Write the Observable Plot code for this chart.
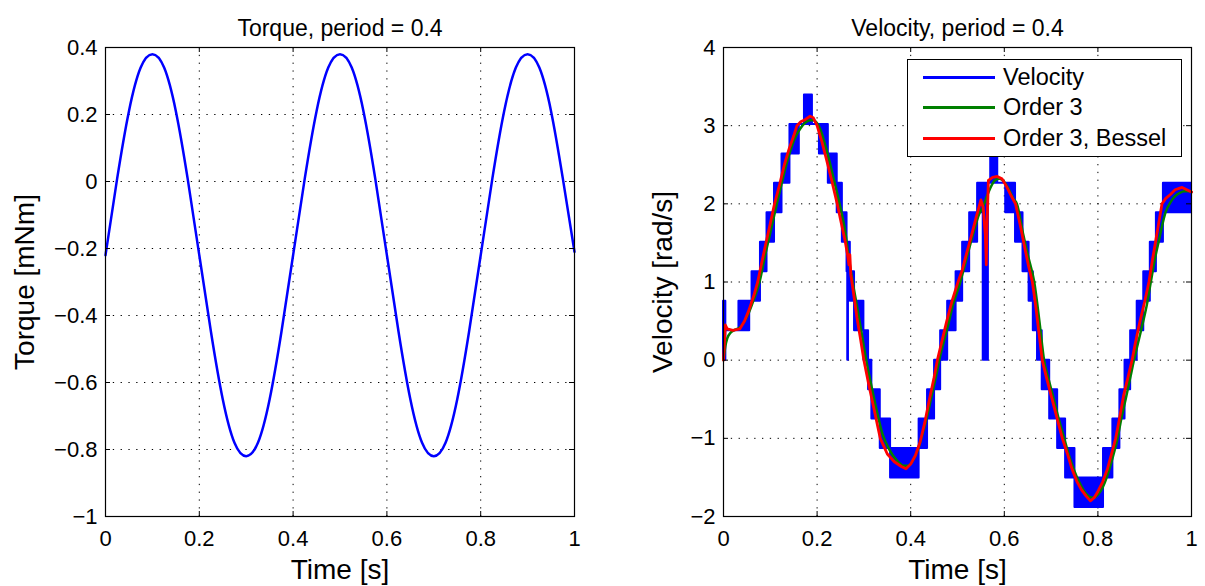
<!DOCTYPE html>
<html><head><meta charset="utf-8">
<script src="https://cdn.jsdelivr.net/npm/d3@7"></script>
<script src="https://cdn.jsdelivr.net/npm/@observablehq/plot@0.6"></script>
<style>
body{margin:0;background:#fff;font-family:"Liberation Sans",Arial,sans-serif;}
#wrap{position:relative;width:1205px;height:586px;overflow:hidden;background:#fff}
#left{position:absolute;left:0;top:0}
#right{position:absolute;left:600px;top:0}
#legend{position:absolute;left:907px;top:59px;width:273px;height:96px;border:1.5px solid #000;background:#fff;font-size:23.5px;color:#000}
.row{position:absolute;left:0;height:30px;display:flex;align-items:center;white-space:nowrap}
.sw{display:inline-block;width:72px;height:3px;margin-left:15px;margin-right:8px}
</style></head>
<body>
<div id="wrap">
  <div id="left"></div>
  <div id="right"></div>
  <div id="legend"></div>
</div>
<script>
// ---------- data ----------
const timeTicks = [0, 0.2, 0.4, 0.6, 0.8, 1];
const torqueTicks = [0.4, 0.2, 0, -0.2, -0.4, -0.6, -0.8, -1];
const velocityTicks = [4, 3, 2, 1, 0, -1, -2];

const torqueTime = [0,0.025,0.05,0.075,0.1,0.125,0.15,0.175,0.2,0.225,0.25,0.275,0.3,0.325,0.35,0.375,0.4,0.425,0.45,0.475,0.5,0.525,0.55,0.575,0.6,0.625,0.65,0.675,0.7,0.725,0.75,0.775,0.8,0.825,0.85,0.875,0.9,0.925,0.95,0.975,1];
const torqueValue = [-0.22,0.01,0.21,0.34,0.38,0.34,0.21,0.01,-0.22,-0.45,-0.65,-0.78,-0.82,-0.78,-0.65,-0.45,-0.22,0.01,0.21,0.34,0.38,0.34,0.21,0.01,-0.22,-0.45,-0.65,-0.78,-0.82,-0.78,-0.65,-0.45,-0.22,0.01,0.21,0.34,0.38,0.34,0.21,0.01,-0.21];

// measured velocity: quantized encoder steps [start time, low level, high level]
const velocitySteps = [
 [0.000,0,0.754],[0.005,0.377,0.377],[0.033,0.377,0.754],[0.056,0.754,0.754],[0.061,0.754,1.131],
 [0.079,1.131,1.508],[0.093,1.508,1.885],[0.109,1.885,2.262],[0.125,2.262,2.639],[0.142,2.639,3.016],
 [0.162,3.016,3.016],[0.173,3.016,3.393],[0.190,3.016,3.016],[0.205,2.639,3.016],[0.224,2.262,2.639],
 [0.243,1.885,2.262],[0.254,1.508,1.885],[0.264,1.131,1.508],[0.2655,0,1.508],[0.267,1.131,1.508],
 [0.271,0.754,1.131],[0.280,0.377,0.754],[0.300,0,0.377],[0.310,-0.377,0],[0.317,-0.754,-0.377],
 [0.335,-1.131,-0.754],[0.357,-1.508,-1.131],[0.418,-1.131,-0.754],[0.436,-0.754,-0.377],[0.451,-0.377,0],
 [0.464,0,0.377],[0.479,0.377,0.754],[0.497,0.754,1.131],[0.511,1.131,1.508],[0.526,1.508,1.885],
 [0.543,1.885,2.262],[0.555,0,2.262],[0.566,2.262,2.262],[0.571,2.262,2.639],[0.586,2.262,2.262],
 [0.603,1.885,2.262],[0.624,1.508,1.885],[0.640,1.131,1.508],[0.653,0.754,1.131],[0.662,0.377,0.754],
 [0.671,0,0.377],[0.681,-0.377,0],[0.697,-0.754,-0.377],[0.714,-1.131,-0.754],[0.731,-1.508,-1.131],
 [0.751,-1.885,-1.508],[0.812,-1.508,-1.131],[0.832,-1.131,-0.754],[0.847,-0.754,-0.377],[0.858,-0.377,0],
 [0.870,0,0.377],[0.884,0.377,0.754],[0.898,0.754,1.131],[0.912,1.131,1.508],[0.925,1.508,1.885],
 [0.940,1.885,2.262],[1.000,1.885,2.262]
];

// filtered, order 3, Bessel (red)
const besselTime = [0,0.004,0.008,0.02,0.035,0.045,0.055,0.065,0.073,0.08,0.09,0.1,0.109,0.12,0.13,0.14,0.15,0.157,0.165,0.175,0.185,0.192,0.2,0.21,0.22,0.23,0.243,0.25,0.26,0.265,0.268,0.27,0.272,0.278,0.285,0.292,0.3,0.31,0.32,0.335,0.35,0.365,0.38,0.39,0.4,0.41,0.42,0.43,0.44,0.45,0.457,0.467,0.477,0.488,0.5,0.51,0.52,0.53,0.54,0.546,0.55,0.555,0.5595,0.5615,0.563,0.566,0.575,0.585,0.595,0.605,0.615,0.624,0.635,0.645,0.652,0.66,0.667,0.674,0.681,0.69,0.7,0.71,0.724,0.735,0.745,0.755,0.765,0.775,0.784,0.792,0.8,0.81,0.82,0.83,0.838,0.845,0.855,0.865,0.873,0.88,0.89,0.9,0.909,0.917,0.925,0.937,0.945,0.955,0.965,0.975,0.98,0.99,1];
const besselValue = [0,0.45,0.4,0.38,0.4,0.5,0.65,0.83,1,1.2,1.48,1.75,2,2.25,2.5,2.7,2.87,3,3.05,3.08,3.12,3.1,3,2.8,2.57,2.33,2,1.8,1.52,1.35,1.22,1.35,1.1,0.85,0.55,0.3,0,-0.3,-0.58,-1,-1.2,-1.3,-1.36,-1.39,-1.33,-1.22,-1.05,-0.8,-0.5,-0.22,0,0.25,0.5,0.75,0.98,1.15,1.38,1.6,1.83,1.96,2.05,1.95,1.6,1.22,1.7,2.3,2.34,2.35,2.32,2.22,2.1,2,1.7,1.4,1.2,1,0.7,0.35,0,-0.22,-0.45,-0.68,-1,-1.2,-1.4,-1.55,-1.66,-1.74,-1.8,-1.76,-1.68,-1.56,-1.4,-1.18,-1,-0.78,-0.45,-0.2,0,0.22,0.5,0.75,1,1.3,1.58,2,2.07,2.12,2.18,2.2,2.21,2.18,2.15];

// filtered, order 3 (green)
const order3Time = [0,0.004,0.008,0.015,0.025,0.035,0.045,0.055,0.065,0.077,0.09,0.1,0.114,0.125,0.135,0.145,0.155,0.165,0.175,0.185,0.192,0.2,0.207,0.215,0.225,0.235,0.248,0.26,0.268,0.276,0.285,0.295,0.305,0.315,0.325,0.34,0.355,0.37,0.385,0.395,0.405,0.415,0.425,0.435,0.445,0.455,0.461,0.47,0.48,0.49,0.505,0.515,0.525,0.535,0.545,0.555,0.56,0.57,0.58,0.59,0.6,0.61,0.62,0.627,0.64,0.65,0.664,0.675,0.685,0.695,0.705,0.715,0.728,0.74,0.75,0.76,0.77,0.78,0.79,0.8,0.81,0.82,0.83,0.842,0.85,0.86,0.87,0.877,0.885,0.895,0.905,0.913,0.922,0.93,0.945,0.955,0.965,0.975,0.985,0.993,1];
const order3Value = [0,0.18,0.28,0.35,0.39,0.42,0.5,0.62,0.78,1,1.37,1.63,2,2.28,2.52,2.72,2.87,2.97,3.04,3.07,3.07,3.03,2.95,2.8,2.58,2.33,2,1.65,1.3,1,0.7,0.35,0,-0.3,-0.58,-0.95,-1.15,-1.28,-1.35,-1.35,-1.28,-1.15,-0.95,-0.72,-0.45,-0.18,0,0.22,0.45,0.7,0.98,1.2,1.43,1.65,1.85,1.97,2.05,2.2,2.3,2.32,2.28,2.18,2.06,2,1.62,1.35,1,0.5,0,-0.25,-0.48,-0.72,-1,-1.25,-1.42,-1.56,-1.67,-1.74,-1.76,-1.72,-1.63,-1.48,-1.28,-1,-0.75,-0.48,-0.2,0,0.2,0.45,0.72,1,1.3,1.52,1.9,2.02,2.1,2.14,2.16,2.16,2.15];

const legendNames = ["Velocity", "Order 3", "Order 3, Bessel"];
const legendColors = ["#0000ff", "#008000", "#ff0000"];

// ---------- helpers ----------
const FONT = "Liberation Sans, Arial, sans-serif";
const fmt = d3.format("");
const torqueData = torqueTime.map((t, i) => ({t, v: torqueValue[i]}));
const stepData = velocitySteps.map(([t, lo, hi]) => ({t, lo, hi}));
const besselData = besselTime.map((t, i) => ({t, v: besselValue[i]}));
const order3Data = order3Time.map((t, i) => ({t, v: order3Value[i]}));

function panel({width, marginLeft, marginRight, yDomain, yTicks, title, yLabel, yLabelDx, dataMarks}) {
  const marginTop = 47, marginBottom = 70, height = 586;
  const innerH = height - marginTop - marginBottom;
  const innerW = width - marginLeft - marginRight;
  const tick = 5;
  const grid = {stroke: "#000", strokeOpacity: 1, strokeWidth: 1, strokeDasharray: "1.3,6.5"};
  return Plot.plot({
    width, height, marginLeft, marginRight, marginTop, marginBottom,
    style: {fontFamily: FONT, fontSize: "22px", background: "white", color: "black", overflow: "visible"},
    x: {domain: [0, 1], label: null},
    y: {domain: yDomain, label: null},
    marks: [
      Plot.gridX(timeTicks, grid),
      Plot.gridY(yTicks, grid),
      ...dataMarks,
      Plot.tickX(timeTicks, {x: d => d, stroke: "#000", insetTop: innerH - tick}),
      Plot.tickX(timeTicks, {x: d => d, stroke: "#000", insetBottom: innerH - tick}),
      Plot.tickY(yTicks, {y: d => d, stroke: "#000", insetRight: innerW - tick}),
      Plot.tickY(yTicks, {y: d => d, stroke: "#000", insetLeft: innerW - tick}),
      Plot.frame({stroke: "#000", strokeWidth: 1.2}),
      Plot.axisX(timeTicks, {tickSize: 0, tickPadding: 14, tickFormat: fmt, fontSize: 22, label: null}),
      Plot.axisY(yTicks, {tickSize: 0, tickPadding: 8, tickFormat: fmt, fontSize: 22, label: null}),
      Plot.text([title], {frameAnchor: "top", dy: -28, fontSize: 23, textAnchor: "middle"}),
      Plot.text(["Time [s]"], {frameAnchor: "bottom", dy: 62, fontSize: 28, textAnchor: "middle"}),
      Plot.text([yLabel], {frameAnchor: "left", dx: yLabelDx, rotate: -90, fontSize: 28, textAnchor: "middle"})
    ]
  });
}

const left = panel({
  width: 600, marginLeft: 105, marginRight: 26,
  yDomain: [-1, 0.4], yTicks: torqueTicks,
  title: "Torque, period = 0.4", yLabel: "Torque [mNm]", yLabelDx: -80,
  dataMarks: [
    Plot.line(torqueData, {x: "t", y: "v", stroke: "#0000ff", strokeWidth: 2.5, curve: "natural"})
  ]
});
document.getElementById("left").append(left);

const right = panel({
  width: 605, marginLeft: 123, marginRight: 14,
  yDomain: [-2, 4], yTicks: velocityTicks,
  title: "Velocity, period = 0.4", yLabel: "Velocity [rad/s]", yLabelDx: -60,
  dataMarks: [
    Plot.areaY(stepData, {x: "t", y1: "lo", y2: "hi", curve: "step-after", fill: "#0000ff", stroke: "#0000ff", strokeWidth: 2}),
    Plot.line(order3Data, {x: "t", y: "v", stroke: "#008000", strokeWidth: 2.5, curve: "monotone-x"}),
    Plot.line(besselData, {x: "t", y: "v", stroke: "#ff0000", strokeWidth: 2.8, curve: "linear"})
  ]
});
document.getElementById("right").append(right);

// legend
const lg = document.getElementById("legend");
legendNames.forEach((name, i) => {
  const row = document.createElement("div");
  row.className = "row";
  row.style.top = (2 + i * 30.5) + "px";
  const sw = document.createElement("span");
  sw.className = "sw";
  sw.style.background = legendColors[i];
  const tx = document.createElement("span");
  tx.textContent = name;
  row.append(sw, tx);
  lg.append(row);
});
</script>
</body></html>
